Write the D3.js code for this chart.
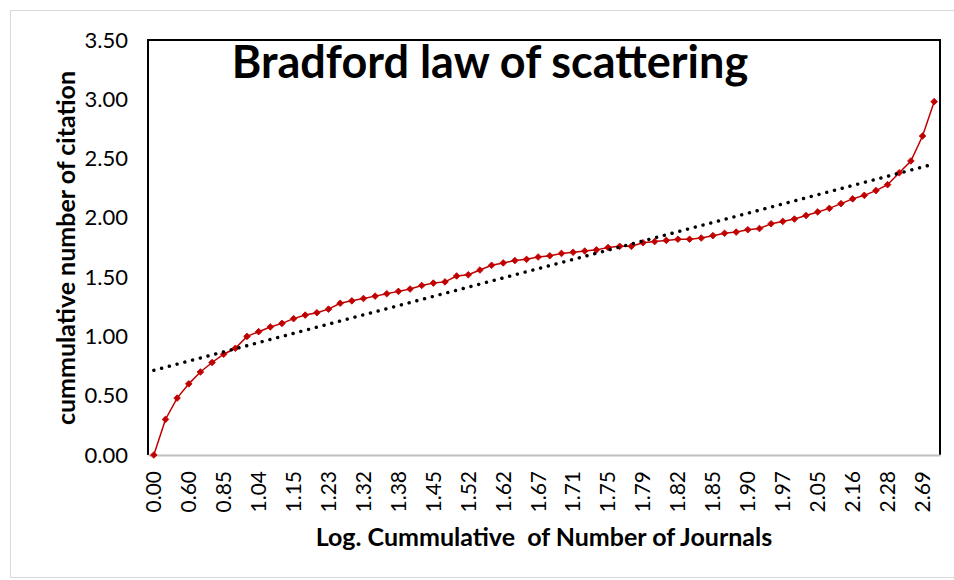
<!DOCTYPE html>
<html>
<head>
<meta charset="utf-8">
<script src="https://cdn.jsdelivr.net/npm/d3@7/dist/d3.min.js"></script>
<style>
  body { margin: 0; background: #fff; }
  svg { font-family: Lato, "Open Sans", sans-serif; }
</style>
</head>
<body>
<div id="chart"></div>
<script>
// cumulative values, one per journal rank
var values = [
  0.00, 0.30, 0.48, 0.60, 0.70, 0.78, 0.85, 0.90, 1.00, 1.04,
  1.08, 1.11, 1.15, 1.18, 1.20, 1.23, 1.28, 1.30, 1.32, 1.34,
  1.36, 1.38, 1.40, 1.43, 1.45, 1.46, 1.51, 1.52, 1.56, 1.60,
  1.62, 1.64, 1.65, 1.67, 1.68, 1.70, 1.71, 1.72, 1.73, 1.75,
  1.76, 1.76, 1.79, 1.80, 1.81, 1.82, 1.82, 1.83, 1.85, 1.87,
  1.88, 1.90, 1.91, 1.95, 1.97, 1.99, 2.02, 2.05, 2.08, 2.12,
  2.16, 2.19, 2.23, 2.28, 2.38, 2.48, 2.69, 2.98
]
// category labels (same log values, shown on x)
var categories = values.map(function(d) { return d.toFixed(2) })
var xTickIndex = d3.range(0, 67, 3)
var yTicks = [0, 0.5, 1, 1.5, 2, 2.5, 3, 3.5]

;(function() {
  var W = 954, H = 580
  var pLeft = 148, pRight = 940, pTop = 40, pBottom = 455

  var svg = d3.select("#chart").append("svg").attr("width", W).attr("height", H)

  // chart area border
  svg.append("rect")
    .attr("x", 10.5).attr("y", 10.5).attr("width", 960).attr("height", 567)
    .attr("fill", "none").attr("stroke", "#d9d9d9").attr("stroke-width", 1)

  var x = d3.scaleBand().domain(d3.range(values.length)).range([pLeft, pRight])
  var y = d3.scaleLinear().domain([0, 3.5]).range([pBottom, pTop])
  var cx = function(i) { return x(i) + x.bandwidth() / 2 }

  // plot area border
  svg.append("path")
    .attr("d", "M" + pLeft + "," + pBottom + "V" + pTop + "H" + pRight + "V" + pBottom)
    .attr("fill", "none").attr("stroke", "#000").attr("stroke-width", 2)

  // y axis
  var yAxis = svg.append("g").attr("transform", "translate(" + pLeft + ",0)")
    .call(d3.axisLeft(y).tickValues(yTicks).tickFormat(d3.format(".2f")).tickSize(0).tickPadding(20))
  yAxis.select(".domain").remove()
  yAxis.selectAll("text").attr("font-size", 22).attr("fill", "#000").attr("font-family", "Lato, sans-serif")

  // x axis
  var xAxis = svg.append("g").attr("transform", "translate(0," + pBottom + ")")
    .call(d3.axisBottom(x).tickValues(xTickIndex).tickFormat(function(i) { return categories[i] }).tickSize(0))
  xAxis.select(".domain").attr("stroke", "#bfbfbf").attr("stroke-width", 2)
  xAxis.selectAll("text")
    .attr("transform", "rotate(-90)")
    .attr("x", -16).attr("y", 0).attr("dy", "0.35em")
    .style("text-anchor", "end")
    .attr("font-size", 21).attr("fill", "#000").attr("font-family", "Lato, sans-serif")

  // series
  var line = d3.line().x(function(d, i) { return cx(i) }).y(function(d) { return y(d) })
  svg.append("path").datum(values)
    .attr("d", line).attr("fill", "none").attr("stroke", "#c00000").attr("stroke-width", 1.5)

  svg.selectAll(".mk").data(values).enter().append("path")
    .attr("class", "mk")
    .attr("d", d3.symbol().type(d3.symbolSquare).size(22))
    .attr("transform", function(d, i) { return "translate(" + cx(i) + "," + y(d) + ") rotate(45)" })
    .attr("fill", "#c00000").attr("stroke", "#c00000").attr("stroke-width", 0.8)

  // linear trendline (least squares on category number)
  var n = values.length
  var xs = d3.range(1, n + 1)
  var mx = d3.mean(xs), my = d3.mean(values)
  var sxy = d3.sum(xs, function(v, i) { return (v - mx) * (values[i] - my) })
  var sxx = d3.sum(xs, function(v) { return (v - mx) * (v - mx) })
  var slope = sxy / sxx, icpt = my - slope * mx
  svg.append("line")
    .attr("x1", cx(0)).attr("y1", y(icpt + slope * 1))
    .attr("x2", cx(n - 1)).attr("y2", y(icpt + slope * n))
    .attr("stroke", "#000").attr("stroke-width", 3.4)
    .attr("stroke-linecap", "round").attr("stroke-dasharray", "0.1 7.9")

  // titles
  svg.append("text").attr("x", 490).attr("y", 78).attr("text-anchor", "middle")
    .attr("font-size", 45).attr("font-weight", "bold").text("Bradford law of scattering")

  svg.append("text").attr("x", 544).attr("y", 546).attr("text-anchor", "middle")
    .attr("font-size", 25).attr("font-weight", "bold")
    .style("white-space", "pre")
    .text("Log. Cummulative  of Number of Journals")

  svg.append("text").attr("transform", "translate(75,248) rotate(-90)").attr("text-anchor", "middle")
    .attr("font-size", 25).attr("font-weight", "bold").text("cummulative number of citation")
})()
</script>
</body>
</html>
